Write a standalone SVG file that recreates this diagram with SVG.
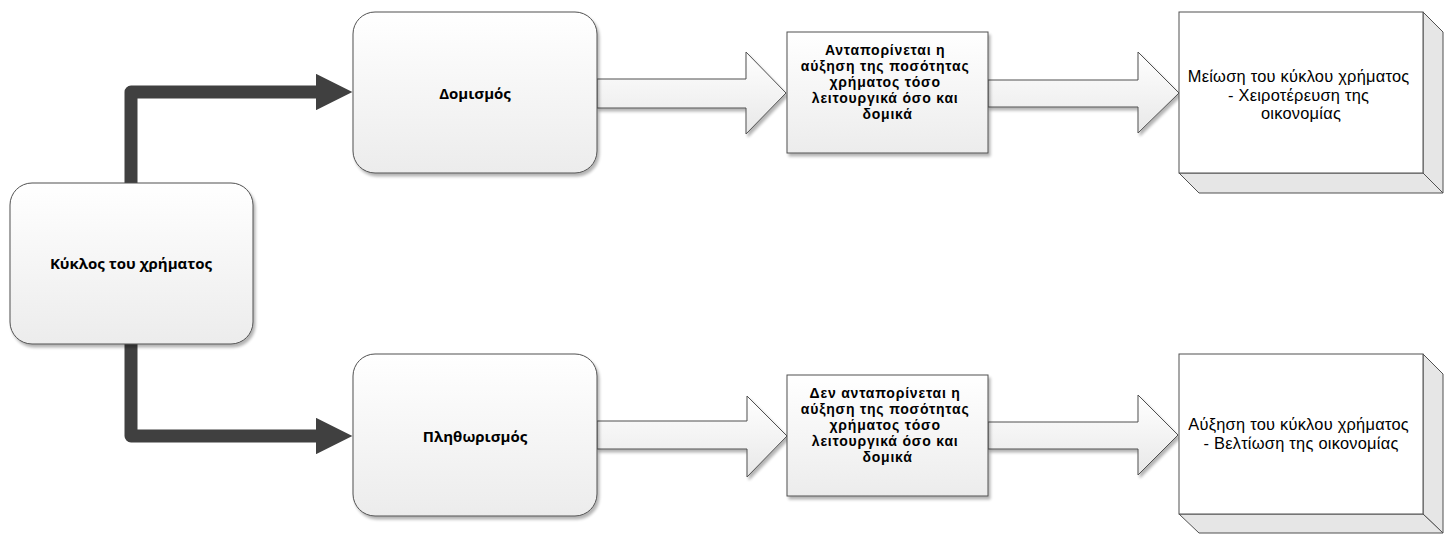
<svg xmlns="http://www.w3.org/2000/svg" width="1448" height="534" viewBox="0 0 1448 534">
  <defs>
    <linearGradient id="softFill" x1="0" y1="0" x2="0" y2="1">
      <stop offset="0" stop-color="#ffffff"/>
      <stop offset="1" stop-color="#ececec"/>
    </linearGradient>
    <linearGradient id="arrowFill" x1="0" y1="0" x2="0" y2="1">
      <stop offset="0" stop-color="#ffffff"/>
      <stop offset="1" stop-color="#e8e8e8"/>
    </linearGradient>
    <filter id="shadow" x="-10%" y="-10%" width="130%" height="130%">
      <feGaussianBlur in="SourceAlpha" stdDeviation="1.5"/>
      <feOffset dx="2" dy="3" result="b"/>
      <feComponentTransfer><feFuncA type="linear" slope="0.3"/></feComponentTransfer>
      <feMerge><feMergeNode/><feMergeNode in="SourceGraphic"/></feMerge>
    </filter>
    <!-- head starts where the thick line stops; tip lies 38px further on -->
    <marker id="head" viewBox="0 0 10 10" refX="0" refY="5" markerWidth="2.92" markerHeight="2.8" markerUnits="strokeWidth" orient="auto">
      <path d="M0,0 L10,5 L0,10 Z" fill="#404040"/>
    </marker>
  </defs>
  <style>
    .round { fill: url(#softFill); stroke: #505050; stroke-width: 1; filter: url(#shadow); }
    .flat { fill: url(#softFill); stroke: #505050; stroke-width: 1; filter: url(#shadow); }
    .block { fill: url(#arrowFill); stroke: #505050; stroke-width: 1; filter: url(#shadow); }
    .front { fill: #ffffff; stroke: #505050; stroke-width: 1; }
    .side { fill: #e6e6e6; stroke: #505050; stroke-width: 1; stroke-linejoin: round; }
    .link { fill: none; stroke: #404040; stroke-width: 13; stroke-linecap: round; stroke-linejoin: round; marker-end: url(#head); }
    .t { font-family: "Open Sans", "Liberation Sans", sans-serif; font-weight: bold; font-size: 15px; fill: #000; text-anchor: middle; }
    .b { font-family: "Liberation Sans", Arial, sans-serif; font-weight: bold; font-size: 14px; letter-spacing: 0.8px; fill: #000; text-anchor: middle; }
    .r { font-family: "Liberation Sans", Arial, sans-serif; font-size: 16.4px; letter-spacing: 0.25px; fill: #000; text-anchor: middle; }
  </style>

  <!-- thick elbow connectors from the source node -->
  <g id="connectors">
    <path class="link" d="M131,183 L131,92 L316,92"/>
    <path class="link" d="M131,344 L131,436 L316,436"/>
  </g>

  <!-- block arrows between stages -->
  <g id="block-arrows">
    <path class="block" d="M597,79 L746,79 L746,52 L786,93 L746,134 L746,108 L597,108 Z"/>
    <path class="block" d="M988,80 L1138,80 L1138,52 L1179,93 L1138,133 L1138,107 L988,107 Z"/>
    <path class="block" d="M597,421 L747,421 L747,396 L787,436 L747,477 L747,449 L597,449 Z"/>
    <path class="block" d="M988,422 L1138,422 L1138,395 L1178,435 L1138,475 L1138,449 L988,449 Z"/>
  </g>

  <g id="money-cycle">
    <rect class="round" x="10" y="183" width="243" height="161" rx="22"/>
    <text class="t" x="131" y="269">Κύκλος του χρήματος</text>
  </g>

  <g id="deflation">
    <rect class="round" x="353" y="12" width="244" height="161" rx="22"/>
    <text class="t" x="475" y="99">Δομισμός</text>
  </g>

  <g id="inflation">
    <rect class="round" x="353" y="354" width="244" height="162" rx="22"/>
    <text class="t" x="475" y="442">Πληθωρισμός</text>
  </g>

  <g id="covered">
    <rect class="flat" x="787" y="32" width="201" height="121"/>
    <text class="b" x="887.5" y="55">
      <tspan x="887.5" y="55">Ανταπορίνεται η</tspan>
      <tspan x="887.5" y="71">αύξηση της ποσότητας</tspan>
      <tspan x="887.5" y="87">χρήματος τόσο</tspan>
      <tspan x="887.5" y="103">λειτουργικά όσο και</tspan>
      <tspan x="887.5" y="119">δομικά</tspan>
    </text>
  </g>

  <g id="not-covered">
    <rect class="flat" x="787" y="375" width="201" height="121"/>
    <text class="b" x="887.5" y="398">
      <tspan x="887.5" y="398">Δεν ανταπορίνεται η</tspan>
      <tspan x="887.5" y="414">αύξηση της ποσότητας</tspan>
      <tspan x="887.5" y="430">χρήματος τόσο</tspan>
      <tspan x="887.5" y="446">λειτουργικά όσο και</tspan>
      <tspan x="887.5" y="462">δομικά</tspan>
    </text>
  </g>

  <g id="worse">
    <path class="side" d="M1423,12 L1443,32 L1443,193 L1423,173 Z"/>
    <path class="side" d="M1179,173 L1423,173 L1443,193 L1199,193 Z"/>
    <rect class="front" x="1179" y="12" width="244" height="161"/>
    <text class="r" x="1301" y="82">
      <tspan x="1301" y="82">Μείωση του κύκλου χρήματος</tspan>
      <tspan x="1301" y="100.5">- Χειροτέρευση της</tspan>
      <tspan x="1301" y="119">οικονομίας</tspan>
    </text>
  </g>

  <g id="better">
    <path class="side" d="M1423,354 L1443,374 L1443,533 L1423,514 Z"/>
    <path class="side" d="M1179,514 L1423,514 L1443,533 L1199,533 Z"/>
    <rect class="front" x="1179" y="354" width="244" height="160"/>
    <text class="r" x="1301" y="430">
      <tspan x="1301" y="430">Αύξηση του κύκλου χρήματος</tspan>
      <tspan x="1301" y="448.5">- Βελτίωση της οικονομίας</tspan>
    </text>
  </g>
</svg>
